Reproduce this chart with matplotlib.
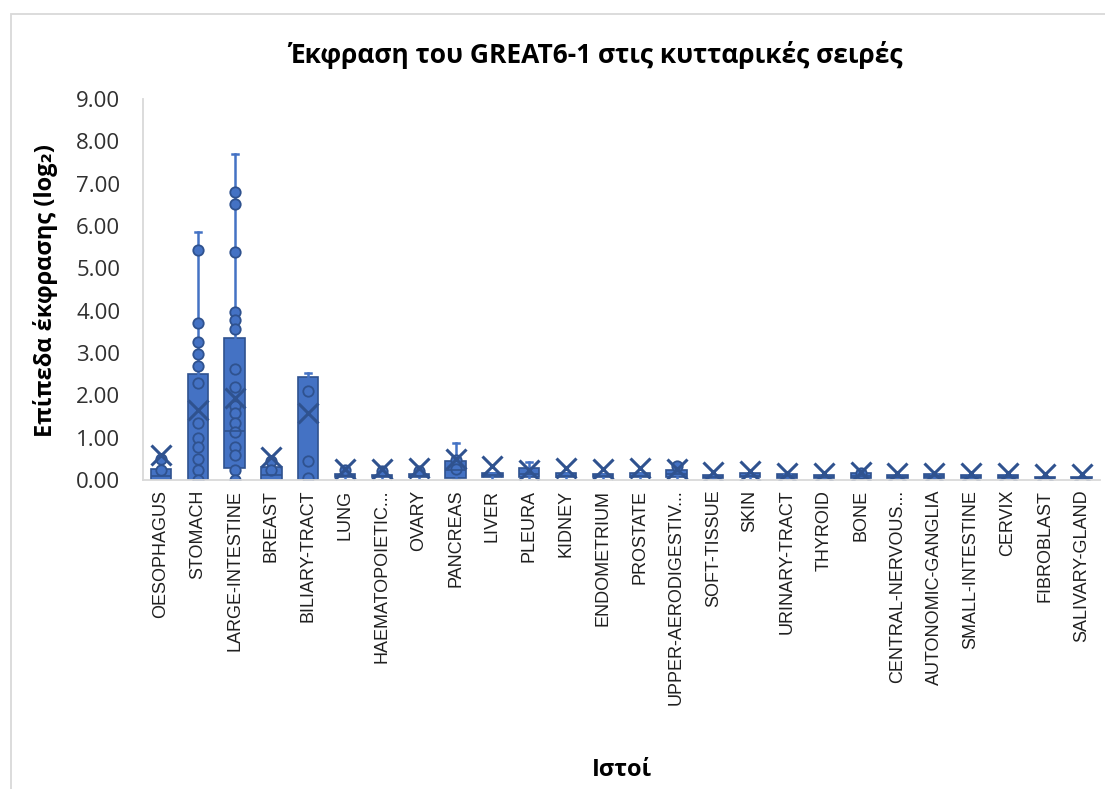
import matplotlib
matplotlib.use("Agg")
import matplotlib.pyplot as plt
from matplotlib.patches import Rectangle

# tissue categories as labelled on the x axis
tissues = ["OESOPHAGUS", "STOMACH", "LARGE-INTESTINE", "BREAST", "BILIARY-TRACT",
           "LUNG", "HAEMATOPOIETIC...", "OVARY", "PANCREAS", "LIVER", "PLEURA",
           "KIDNEY", "ENDOMETRIUM", "PROSTATE", "UPPER-AERODIGESTIV...",
           "SOFT-TISSUE", "SKIN", "URINARY-TRACT", "THYROID", "BONE",
           "CENTRAL-NERVOUS...", "AUTONOMIC-GANGLIA", "SMALL-INTESTINE",
           "CERVIX", "FIBROBLAST", "SALIVARY-GLAND"]

# box statistics (log2 expression)
q1 = [0.00, 0.00, 0.28, 0.00, 0.00, 0.07, 0.07, 0.07, 0.05, 0.07, 0.07, 0.07, 0.07,
      0.07, 0.07, 0.05, 0.07, 0.05, 0.05, 0.05, 0.05, 0.05, 0.05, 0.05, 0.04, 0.04]
median = [0.10, 0.00, 1.16, 0.12, 0.00, 0.10, 0.09, 0.10, 0.24, 0.12, 0.15, 0.10, 0.10,
          0.10, 0.15, 0.07, 0.10, 0.09, 0.08, 0.10, 0.08, 0.09, 0.08, 0.08, 0.05, 0.05]
q3 = [0.26, 2.51, 3.36, 0.30, 2.43, 0.15, 0.13, 0.15, 0.45, 0.17, 0.28, 0.16, 0.15,
      0.16, 0.24, 0.11, 0.16, 0.15, 0.13, 0.16, 0.13, 0.14, 0.13, 0.12, 0.08, 0.08]
whisker_low = [0.0] * 26
whisker_high = [0.49, 5.86, 7.71, 0.45, 2.52, 0.24, 0.22, 0.22, 0.87, 0.17, 0.43, 0.16,
                0.15, 0.16, 0.33, 0.11, 0.16, 0.15, 0.13, 0.16, 0.13, 0.14, 0.13, 0.12,
                0.08, 0.08]
mean = [0.59, 1.65, 1.94, 0.54, 1.58, 0.27, 0.27, 0.28, 0.50, 0.33, 0.24, 0.28, 0.26,
        0.28, 0.26, 0.20, 0.21, 0.17, 0.17, 0.18, 0.17, 0.17, 0.17, 0.17, 0.15, 0.15]
points = [
    [0.49, 0.24],
    [5.44, 3.71, 3.26, 2.98, 2.70, 2.29, 1.35, 0.99, 0.78, 0.50, 0.24, 0.0],
    [6.81, 6.53, 5.39, 3.98, 3.78, 3.57, 2.62, 2.20, 1.76, 1.58, 1.35, 1.13,
     0.78, 0.59, 0.24, 0.0],
    [0.45, 0.24],
    [2.10, 0.45, 0.05],
    [0.24], [0.22], [0.22],
    [0.47, 0.26],
    [], [], [], [], [],
    [0.33],
    [], [], [], [], [0.16], [], [], [], [], [], [],
]

fill = "#4472C4"
edge = "#2F528F"

plt.rcParams["font.family"] = ["Open Sans", "DejaVu Sans"]

fig = plt.figure(figsize=(11.05, 7.89), dpi=100)
ax = fig.add_axes([0.1290, 0.3916, 0.8665, 0.4829])

stats = []
for i, name in enumerate(tissues):
    stats.append(dict(label=name, q1=q1[i], med=median[i], q3=q3[i],
                      whislo=whisker_low[i], whishi=whisker_high[i],
                      mean=mean[i], fliers=points[i]))

ax.bxp(stats, positions=range(len(tissues)), widths=0.55, patch_artist=True,
       showmeans=True, showfliers=True,
       boxprops=dict(facecolor=fill, edgecolor=edge, linewidth=1.2),
       medianprops=dict(color=edge, linewidth=1.2),
       whiskerprops=dict(color=fill, linewidth=1.8),
       capprops=dict(color=fill, linewidth=1.8),
       capwidths=0.16,
       meanprops=dict(marker="x", markersize=14, markeredgewidth=2.2,
                      markeredgecolor=edge, markerfacecolor="none"),
       flierprops=dict(marker="o", markersize=7.5, markerfacecolor=fill,
                       markeredgecolor=edge, markeredgewidth=1.3))

ax.set_xlim(-0.5, len(tissues) - 0.5)
ax.set_ylim(0, 9)
ax.set_yticks(range(0, 10))
ax.set_yticklabels([f"{v:.2f}" for v in range(0, 10)], fontsize=16, color="#303030")
ax.set_xticks(range(len(tissues)))
ax.set_xticklabels(tissues, rotation=90, fontsize=13, family="Liberation Sans",
                   va="top", ha="center", color="#202020")
ax.tick_params(axis="both", length=0)
ax.tick_params(axis="y", pad=16)
ax.tick_params(axis="x", pad=7)

for side in ["top", "right"]:
    ax.spines[side].set_visible(False)
for side in ["left", "bottom"]:
    ax.spines[side].set_color("#D9D9D9")
    ax.spines[side].set_linewidth(1.3)

fig.text(0.539, 0.930, "Έκφραση του GREAT6-1 στις κυτταρικές σειρές",
         ha="center", va="center", fontsize=19, fontweight="bold")
fig.text(0.041, 0.632, "Επίπεδα έκφρασης (log₂)", rotation=90,
         ha="center", va="center", fontsize=17, fontweight="bold")
fig.text(0.563, 0.024, "Ιστοί", ha="center", va="center",
         fontsize=17, fontweight="bold")

# light chart-area frame
fig.patches.append(Rectangle((0.010, -0.05), 1.1, 1.032, transform=fig.transFigure,
                             fill=False, edgecolor="#D9D9D9", linewidth=1.3))

fig.savefig("out.png", dpi=100)
